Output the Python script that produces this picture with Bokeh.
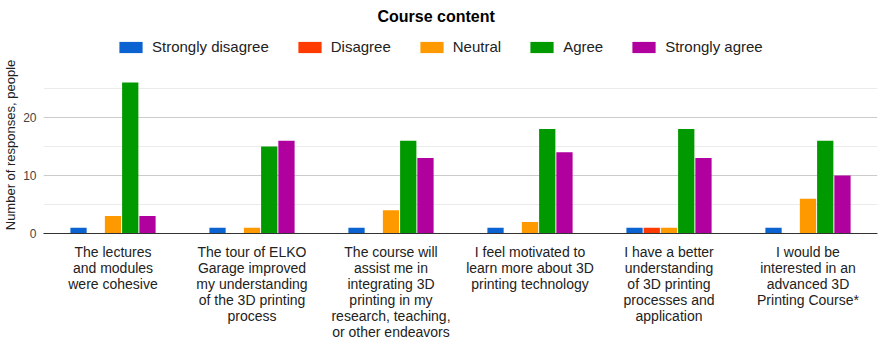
from bokeh.plotting import figure
from bokeh.layouts import column
from bokeh.models import Range1d, Legend, LegendItem, FixedTicker, ColumnDataSource, LinearAxis
from bokeh.transform import dodge
from bokeh.embed import file_html
from bokeh.resources import INLINE

categories = [
    "The lectures\nand modules\nwere cohesive",
    "The tour of ELKO\nGarage improved\nmy understanding\nof the 3D printing\nprocess",
    "The course will\nassist me in\nintegrating 3D\nprinting in my\nresearch, teaching,\nor other endeavors",
    "I feel motivated to\nlearn more about 3D\nprinting technology",
    "I have a better\nunderstanding\nof 3D printing\nprocesses and\napplication",
    "I would be\ninterested in an\nadvanced 3D\nPrinting Course*",
]
series_names = ["Strongly disagree", "Disagree", "Neutral", "Agree", "Strongly agree"]
strongly_disagree = [1, 1, 1, 1, 1, 1]
disagree = [0, 0, 0, 0, 1, 0]
neutral = [3, 1, 4, 2, 1, 6]
agree = [26, 15, 16, 18, 18, 16]
strongly_agree = [3, 16, 13, 14, 13, 10]
colors = ["#0b63d2", "#ff3a00", "#ff9900", "#009900", "#b0009e"]
y_ticks = [0, 10, 20]
y_minor = [5, 15, 25]

positions = list(range(len(categories)))
source = ColumnDataSource(dict(
    pos=positions,
    s0=strongly_disagree, s1=disagree, s2=neutral, s3=agree, s4=strongly_agree,
))

W = 878
TOP_H = 56
MAIN_H = 342 - TOP_H
step = 0.124

# ---- header: title + legend ----
head = figure(
    width=W, height=TOP_H, output_backend="svg", toolbar_location=None,
    x_range=Range1d(100, 101), y_range=Range1d(100, 101),
    x_axis_location=None, y_axis_location=None,
    min_border_left=0, min_border_right=0, min_border_top=0, min_border_bottom=0,
)
head.outline_line_color = None
head.grid.grid_line_color = None
head.title.text = "Course content"
head.title.align = "left"
head.title.offset = 334
head.title.text_font = "Liberation Sans"
head.title.text_font_size = "16px"
head.title.text_font_style = "bold"
head.title.text_color = "#000000"

head_renderers = []
for i, col in enumerate(colors):
    r = head.vbar(x=dodge("pos", (i - 2) * step), top="s%d" % i,
                  width=0.117, source=source, fill_color=col, line_color=None)
    head_renderers.append(r)

legend = Legend(items=[LegendItem(label=n, renderers=[r]) for n, r in zip(series_names, head_renderers)],
                orientation="horizontal", location=(73, 1))
legend.glyph_width = 29
legend.glyph_height = 14
legend.label_text_font = "Liberation Sans"
legend.label_text_font_size = "15px"
legend.label_text_color = "#222222"
legend.label_standoff = 7
legend.spacing = 26
legend.padding = 0
legend.margin = 0
legend.border_line_color = None
legend.background_fill_alpha = 0
head.add_layout(legend, "center")

# ---- main chart ----
p = figure(
    x_range=Range1d(-0.5, len(categories) - 0.5),
    y_range=Range1d(0, 30.5),
    width=W, height=MAIN_H, title=None,
    output_backend="svg", toolbar_location=None,
    x_axis_location=None,
    min_border_left=0, min_border_right=1, min_border_top=0, min_border_bottom=0,
)

for i, col in enumerate(colors):
    p.vbar(x=dodge("pos", (i - 2) * step), top="s%d" % i,
           width=0.117, source=source, fill_color=col, line_color=None)

p.outline_line_color = None
p.xgrid.grid_line_color = None
p.ygrid.ticker = FixedTicker(ticks=y_ticks, minor_ticks=y_minor)
p.ygrid.grid_line_color = "#cccccc"
p.ygrid.minor_grid_line_color = "#ebebeb"

p.yaxis.ticker = FixedTicker(ticks=y_ticks)
p.yaxis.axis_line_color = None
p.yaxis.major_tick_line_color = None
p.yaxis.minor_tick_line_color = None
p.yaxis.major_tick_out = 0
p.yaxis.minor_tick_out = 0
p.yaxis.major_label_text_font = "Liberation Sans"
p.yaxis.major_label_text_font_size = "12px"
p.yaxis.major_label_text_color = "#444444"
p.yaxis.major_label_standoff = 7
p.yaxis.axis_label = "Number of responses, people"
p.yaxis.axis_label_text_font = "Liberation Sans"
p.yaxis.axis_label_text_font_size = "13px"
p.yaxis.axis_label_text_font_style = "normal"
p.yaxis.axis_label_text_color = "#222222"
p.yaxis.axis_label_standoff = 2

split_labels = [c.split("\n") for c in categories]
n_lines = max(len(s) for s in split_labels)
for k in range(n_lines):
    ax = LinearAxis(ticker=FixedTicker(ticks=positions))
    ax.major_label_overrides = {i: (s[k] if k < len(s) else " ") for i, s in zip(positions, split_labels)}
    ax.axis_line_color = "#333333" if k == 0 else None
    ax.major_tick_line_color = None
    ax.minor_tick_line_color = None
    ax.major_tick_out = 0
    ax.major_tick_in = 0
    ax.minor_tick_out = 0
    ax.minor_tick_in = 0
    ax.major_label_text_font = "Liberation Sans"
    ax.major_label_text_font_size = "14px"
    ax.major_label_text_color = "#222222"
    ax.major_label_standoff = 10 if k == 0 else -3
    p.add_layout(ax, "below")

layout = column(head, p, spacing=0)
open("out.html", "w").write(file_html(layout, INLINE))
